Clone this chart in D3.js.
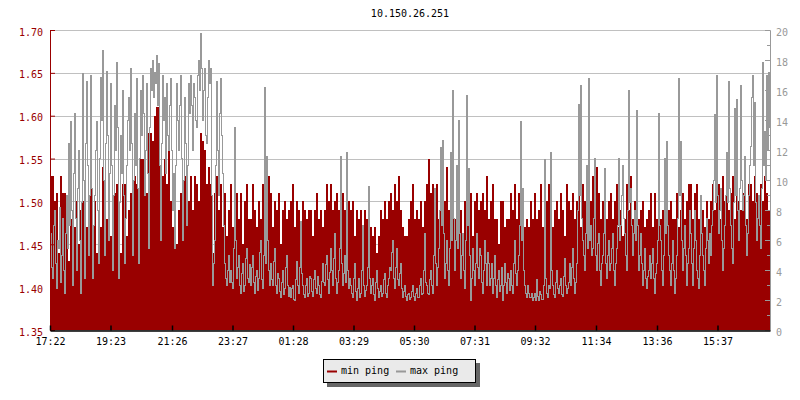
<!DOCTYPE html>
<html>
<head>
<meta charset="utf-8">
<script src="https://cdn.jsdelivr.net/npm/d3@7"></script>
<style>
  body { margin: 0; background: #fff; }
  text { font-family: "DejaVu Sans Mono", monospace; font-size: 10px; }
</style>
</head>
<body>
<div id="chart"></div>
<script>
var title = '10.150.26.251';
var xTickLabels = ['17:22', '19:23', '21:26', '23:27', '01:28', '03:29', '05:30', '07:31', '09:32', '11:34', '13:36', '15:37'];
var leftTicks = [1.35, 1.40, 1.45, 1.50, 1.55, 1.60, 1.65, 1.70];
var rightTicks = [0, 2, 4, 6, 8, 10, 12, 14, 16, 18, 20];
var seriesNames = ['min ping', 'max ping'];

// min ping: one sample every 4 minutes from 17:22 (left axis)
var minPing = [
  1.53, 1.53, 1.50, 1.51, 1.44, 1.53, 1.51, 1.51, 1.50, 1.43,
  1.48, 1.42, 1.47, 1.50, 1.45, 1.49, 1.50, 1.43, 1.47, 1.50,
  1.53, 1.46, 1.50, 1.44, 1.49, 1.47, 1.54, 1.45, 1.48, 1.53,
  1.46, 1.43, 1.51, 1.52, 1.47, 1.44, 1.52, 1.52, 1.46, 1.49,
  1.51, 1.46, 1.53, 1.52, 1.45, 1.55, 1.55, 1.52, 1.51, 1.58,
  1.58, 1.57, 1.60, 1.61, 1.61, 1.50, 1.53, 1.55, 1.52, 1.56,
  1.50, 1.47, 1.51, 1.45, 1.49, 1.51, 1.46, 1.53, 1.48, 1.50,
  1.53, 1.49, 1.53, 1.52, 1.50, 1.58, 1.57, 1.56, 1.52, 1.54,
  1.52, 1.44, 1.51, 1.53, 1.49, 1.52, 1.47, 1.51, 1.46, 1.49,
  1.52, 1.47, 1.51, 1.51, 1.48, 1.51, 1.45, 1.50, 1.52, 1.48,
  1.48, 1.52, 1.49, 1.47, 1.50, 1.48, 1.52, 1.51, 1.46, 1.53,
  1.51, 1.47, 1.50, 1.49, 1.51, 1.45, 1.49, 1.50, 1.48, 1.49,
  1.50, 1.52, 1.47, 1.50, 1.49, 1.45, 1.50, 1.49, 1.48, 1.49,
  1.49, 1.46, 1.49, 1.51, 1.48, 1.49, 1.47, 1.49, 1.52, 1.50,
  1.52, 1.49, 1.50, 1.51, 1.49, 1.47, 1.51, 1.49, 1.48, 1.50,
  1.49, 1.50, 1.46, 1.49, 1.48, 1.49, 1.45, 1.49, 1.48, 1.47,
  1.47, 1.46, 1.47, 1.44, 1.46, 1.49, 1.48, 1.50, 1.48, 1.50,
  1.51, 1.49, 1.52, 1.50, 1.53, 1.49, 1.47, 1.46, 1.46, 1.48,
  1.50, 1.52, 1.48, 1.49, 1.48, 1.50, 1.47, 1.50, 1.52, 1.55,
  1.51, 1.52, 1.49, 1.52, 1.48, 1.50, 1.49, 1.50, 1.54, 1.49,
  1.51, 1.53, 1.48, 1.52, 1.49, 1.49, 1.46, 1.50, 1.52, 1.48,
  1.51, 1.46, 1.50, 1.51, 1.49, 1.50, 1.51, 1.49, 1.53, 1.48,
  1.50, 1.52, 1.48, 1.48, 1.45, 1.50, 1.50, 1.47, 1.48, 1.48,
  1.51, 1.49, 1.52, 1.48, 1.51, 1.53, 1.48, 1.47, 1.48, 1.47,
  1.50, 1.48, 1.51, 1.48, 1.49, 1.52, 1.47, 1.48, 1.50, 1.52,
  1.51, 1.47, 1.49, 1.50, 1.48, 1.51, 1.49, 1.46, 1.52, 1.50,
  1.49, 1.51, 1.48, 1.50, 1.51, 1.47, 1.52, 1.50, 1.48, 1.51,
  1.50, 1.53, 1.49, 1.54, 1.51, 1.48, 1.50, 1.51, 1.48, 1.50,
  1.51, 1.48, 1.50, 1.52, 1.47, 1.49, 1.46, 1.48, 1.52, 1.49,
  1.53, 1.48, 1.50, 1.52, 1.48, 1.49, 1.50, 1.47, 1.48, 1.49,
  1.51, 1.47, 1.51, 1.48, 1.50, 1.48, 1.49, 1.51, 1.52, 1.49,
  1.50, 1.48, 1.48, 1.51, 1.47, 1.49, 1.51, 1.48, 1.50, 1.52,
  1.52, 1.48, 1.51, 1.52, 1.48, 1.50, 1.49, 1.47, 1.50, 1.48,
  1.50, 1.52, 1.49, 1.55, 1.52, 1.48, 1.53, 1.50, 1.51, 1.49,
  1.51, 1.53, 1.48, 1.52, 1.50, 1.49, 1.51, 1.53, 1.48, 1.52,
  1.52, 1.50, 1.53, 1.51, 1.49, 1.52, 1.50, 1.53, 1.51, 1.49
];

// max ping: one sample every 2 minutes from 17:22 (right axis)
var maxPing = [
  6.5, 4.2, 3.5, 7.0, 8.0, 4.5, 2.8, 6.0, 5.5, 8.2, 3.2, 5.0, 7.5, 4.0, 2.5, 6.5, 9.0, 5.5, 12.5, 7.0,
  13.9, 8.0, 3.0, 10.5, 14.5, 7.5, 4.0, 9.5, 12.0, 6.0, 2.5, 8.5, 17.1, 10.0, 3.5, 12.5, 16.6, 11.0, 5.0, 9.0,
  17.0, 9.5, 3.5, 7.0, 9.0, 12.0, 13.9, 8.0, 4.5, 11.5, 16.9, 14.0, 18.7, 10.0, 5.0, 12.5, 17.3, 13.0, 6.0, 10.5,
  16.5, 11.0, 4.0, 9.0, 15.0, 12.0, 17.9, 13.5, 3.5, 8.5, 13.0, 10.5, 16.0, 9.0, 4.5, 7.5, 11.0, 14.0, 15.5, 12.0,
  17.5, 12.5, 5.0, 10.0, 14.5, 11.0, 16.8, 9.5, 4.5, 11.5, 16.0, 13.0, 17.0, 14.5, 9.0, 12.0, 16.5, 10.5, 5.5, 13.5,
  17.5, 16.0, 18.0, 15.5, 17.2, 16.5, 18.3, 15.0, 17.8, 11.0, 6.0, 12.5, 17.0, 14.0, 15.5, 10.5, 16.5, 13.0, 12.0, 15.0,
  16.8, 12.0, 8.0, 10.5, 5.5, 11.0, 16.5, 14.0, 12.0, 15.0, 17.0, 11.5, 6.0, 10.0, 15.5, 12.5, 7.0, 11.0, 16.5, 14.5,
  17.0, 15.0, 12.0, 16.5, 15.5, 14.0, 13.5, 17.0, 18.0, 16.0, 19.8, 17.5, 14.0, 16.0, 17.5, 13.0, 12.5, 15.5, 18.0, 16.5,
  17.5, 9.0, 3.0, 4.5, 6.0, 11.0, 16.6, 12.0, 9.0, 14.5, 16.8, 13.0, 10.5, 7.0, 4.5, 3.5, 3.0, 4.0, 5.0, 3.2,
  4.0, 3.2, 2.8, 5.5, 13.5, 6.0, 3.5, 4.2, 5.0, 3.0, 2.5, 3.8, 4.5, 2.6, 3.0, 4.8, 5.5, 3.5, 3.2, 4.4,
  3.0, 4.2, 5.0, 3.2, 2.5, 3.6, 4.0, 2.7, 3.5, 5.2, 6.0, 3.4, 2.8, 5.0, 16.2, 4.5, 11.6, 6.0, 4.0, 3.0,
  4.5, 3.4, 3.0, 4.6, 5.5, 3.0, 2.5, 3.8, 3.5, 2.6, 2.2, 3.2, 4.0, 2.4, 2.8, 4.2, 5.0, 3.0, 2.3, 2.9,
  2.2, 2.8, 3.0, 2.1, 2.0, 3.4, 4.6, 3.0, 2.5, 4.2, 7.3, 3.8, 3.0, 2.4, 2.2, 3.0, 3.5, 2.3, 2.5, 3.6,
  3.5, 2.6, 2.3, 3.4, 4.0, 2.8, 2.5, 3.6, 3.0, 2.4, 2.2, 3.3, 4.5, 3.2, 3.0, 4.4, 5.0, 3.4, 2.5, 3.9,
  5.5, 4.0, 3.0, 4.8, 6.5, 3.5, 2.5, 3.2, 4.0, 5.5, 11.6, 4.5, 3.0, 3.8, 5.0, 3.2, 11.9, 4.0, 2.8, 3.5,
  3.0, 2.5, 2.2, 3.5, 4.5, 2.6, 2.0, 2.8, 3.5, 2.2, 2.5, 4.0, 7.0, 3.0, 2.3, 2.7, 3.0, 4.2, 9.6, 3.5,
  2.5, 3.0, 3.5, 2.4, 2.0, 3.2, 4.0, 2.8, 2.2, 2.6, 3.0, 2.3, 2.5, 3.4, 3.8, 2.5, 2.2, 3.0, 3.5, 4.2,
  4.0, 5.2, 6.0, 3.5, 2.8, 4.2, 5.5, 3.4, 3.0, 3.8, 4.5, 2.8, 2.2, 2.6, 3.0, 2.3, 2.0, 2.4, 2.5, 2.1,
  2.2, 2.6, 3.0, 2.3, 2.0, 2.5, 2.8, 2.2, 2.2, 3.0, 3.5, 2.4, 2.5, 4.0, 6.5, 3.2, 3.0, 2.5, 2.4, 3.4,
  4.0, 3.0, 2.5, 5.0, 9.5, 4.5, 3.0, 4.2, 5.5, 8.0, 12.2, 7.0, 12.7, 6.5, 3.5, 4.5, 6.0, 4.0, 3.0, 5.5,
  11.9, 6.0, 16.0, 7.5, 4.0, 6.0, 11.0, 5.5, 14.0, 6.5, 3.5, 5.0, 6.5, 4.0, 2.8, 6.0, 15.7, 7.0, 10.8, 5.0,
  2.0, 3.5, 5.5, 4.0, 3.0, 4.5, 6.5, 4.2, 3.5, 5.5, 5.0, 3.2, 2.5, 4.0, 6.0, 4.5, 3.0, 5.2, 4.5, 3.0,
  3.5, 4.5, 2.5, 3.5, 5.0, 3.0, 2.2, 3.4, 4.0, 2.6, 3.0, 4.2, 2.0, 3.0, 4.5, 3.2, 2.5, 3.8, 3.5, 2.7,
  4.0, 3.0, 2.5, 4.5, 6.0, 3.8, 3.0, 4.0, 5.0, 7.0, 13.9, 6.0, 9.5, 4.0, 3.0, 2.5, 2.2, 3.0, 2.5, 2.2,
  2.2, 2.5, 2.0, 2.2, 2.5, 2.0, 3.4, 2.3, 2.0, 2.6, 2.4, 2.1, 2.1, 3.0, 11.4, 3.5, 2.5, 2.2, 3.0, 2.8,
  11.9, 4.0, 3.0, 2.4, 2.2, 3.2, 4.0, 2.8, 2.5, 3.0, 3.5, 2.4, 2.3, 3.6, 4.8, 3.0, 2.5, 2.8, 3.2, 4.5,
  3.0, 4.2, 5.5, 3.5, 2.5, 3.2, 4.5, 8.0, 15.1, 9.0, 16.3, 7.5, 6.0, 5.0, 4.0, 6.5, 11.0, 5.5, 16.8, 6.0,
  7.0, 5.0, 5.5, 7.5, 11.5, 5.0, 4.0, 5.8, 6.5, 4.0, 3.0, 4.5, 5.0, 6.5, 10.8, 4.5, 3.5, 5.0, 6.0, 4.0,
  4.5, 5.5, 6.5, 4.0, 3.0, 4.5, 5.5, 7.0, 11.5, 6.0, 7.0, 9.0, 11.0, 7.5, 6.5, 5.0, 4.0, 8.0, 16.0, 8.5,
  9.5, 7.0, 5.0, 6.5, 8.0, 6.0, 14.7, 7.0, 4.0, 5.0, 6.5, 4.5, 3.0, 4.0, 5.5, 3.5, 2.8, 3.6, 4.0, 5.0,
  3.5, 4.5, 5.5, 3.5, 2.5, 3.8, 4.5, 6.0, 14.5, 7.0, 6.0, 4.0, 3.0, 5.0, 11.5, 6.5, 12.6, 7.0, 5.0, 4.0,
  3.0, 4.5, 6.0, 4.0, 2.5, 3.5, 5.0, 7.5, 16.8, 9.0, 12.6, 6.0, 4.0, 5.5, 7.0, 5.0, 3.0, 4.5, 5.5, 8.0,
  6.5, 4.5, 3.0, 5.5, 8.0, 6.0, 4.0, 3.5, 2.8, 5.0, 9.0, 6.5, 5.0, 4.0, 3.0, 5.5, 7.5, 6.0, 4.5, 6.5,
  5.0, 7.0, 8.0, 10.0, 14.4, 8.5, 17.0, 9.0, 6.5, 8.0, 9.5, 6.0, 4.0, 5.5, 7.0, 9.0, 11.9, 8.5, 16.6, 9.5,
  7.0, 5.5, 4.5, 8.5, 14.8, 9.0, 15.4, 8.0, 6.0, 9.5, 16.3, 10.0, 8.0, 9.0, 11.6, 7.0, 5.0, 6.5, 9.0, 11.0,
  12.3, 15.5, 17.0, 11.0, 15.2, 8.5, 6.0, 7.5, 9.0, 7.0, 5.5, 9.5, 17.9, 11.0, 13.3, 10.0, 17.0, 12.0, 17.2, 13.5
];

var width = 800, height = 400;
var plotLeft = 50, plotRight = 770, plotTop = 30, plotBottom = 330;
var minStep = 4, maxStep = 2; // minutes between samples

var svg = d3.select('#chart')
  .append('svg')
  .attr('width', width)
  .attr('height', height);

var start = new Date(2021, 0, 1, 17, 22);
function timeAt(i, step) {
  return d3.timeMinute.offset(start, i * step);
}

var xScale = d3.scaleTime()
  .domain([start, timeAt(minPing.length, minStep)])
  .range([plotLeft, plotRight]);

var yLeft = d3.scaleLinear().domain([1.35, 1.70]).range([plotBottom, plotTop]);
var yRight = d3.scaleLinear().domain([0, 20]).range([plotBottom, plotTop]);

// tick label strings -> dates (after midnight = next day)
var xTickDates = xTickLabels.map(function (s) {
  var p = s.split(':');
  var d = new Date(2021, 0, 1, +p[0], +p[1]);
  if (d < start) d = d3.timeDay.offset(d, 1);
  return d;
});

// grid
svg.append('g')
  .selectAll('line')
  .data(leftTicks)
  .enter()
  .append('line')
  .attr('x1', plotLeft)
  .attr('x2', plotRight)
  .attr('y1', function (d) { return Math.round(yLeft(d)) + 0.5; })
  .attr('y2', function (d) { return Math.round(yLeft(d)) + 0.5; })
  .attr('stroke', '#c0c0c0')
  .attr('stroke-width', 1);

// min ping area, closing point so the last step reaches the right edge
var idx = d3.range(minPing.length + 1);

var area = d3.area()
  .curve(d3.curveStepAfter)
  .x(function (i) { return Math.round(xScale(timeAt(i, minStep))); })
  .y0(plotBottom)
  .y1(function (i) { return Math.round(yLeft(minPing[Math.min(i, minPing.length - 1)])); });

svg.append('path')
  .datum(idx)
  .attr('d', area)
  .attr('fill', '#990000')
  .attr('shape-rendering', 'crispEdges');

// max ping line: vertical runs sit on pixel-column centres
var line = d3.line()
  .curve(d3.curveStepAfter)
  .x(function (d, i) { return Math.round(xScale(timeAt(i, maxStep))) + 0.5; })
  .y(function (d) { return Math.round(yRight(d)) + 0.5; });

svg.append('path')
  .datum(maxPing)
  .attr('d', line)
  .attr('fill', 'none')
  .attr('stroke', '#999999')
  .attr('stroke-width', 1)
  .attr('stroke-linecap', 'square')
  .attr('shape-rendering', 'crispEdges');

// left axis (red)
var leftMinor = svg.append('g')
  .attr('transform', 'translate(' + plotLeft + ',0)')
  .call(d3.axisLeft(yLeft).tickValues(d3.range(35, 71).map(function (v) { return v / 100; }))
    .tickSize(-3).tickSizeOuter(0).tickFormat(''));
leftMinor.selectAll('line,path').attr('stroke', '#990000');

var leftAxisG = svg.append('g')
  .attr('transform', 'translate(' + plotLeft + ',0)')
  .call(d3.axisLeft(yLeft).tickValues(leftTicks).tickSize(-5).tickSizeOuter(0)
    .tickPadding(7).tickFormat(d3.format('.2f')));
leftAxisG.selectAll('line,path').attr('stroke', '#990000');
leftAxisG.selectAll('text')
  .attr('fill', '#990000')
  .attr('dy', '0.5em')
  .style('font-family', '"DejaVu Sans Mono", monospace')
  .style('font-size', '10px');

// right axis (gray)
var rightMinor = svg.append('g')
  .attr('transform', 'translate(' + plotRight + ',0)')
  .call(d3.axisRight(yRight).tickValues(d3.range(0, 21))
    .tickSize(-3).tickSizeOuter(0).tickFormat(''));
rightMinor.selectAll('line,path').attr('stroke', '#999999');

var rightAxisG = svg.append('g')
  .attr('transform', 'translate(' + plotRight + ',0)')
  .call(d3.axisRight(yRight).tickValues(rightTicks).tickSize(-5).tickSizeOuter(0)
    .tickPadding(6));
rightAxisG.selectAll('line,path').attr('stroke', '#999999');
rightAxisG.selectAll('text')
  .attr('fill', '#999999')
  .attr('dy', '0.5em')
  .style('font-family', '"DejaVu Sans Mono", monospace')
  .style('font-size', '10px');

// x axis (black)
var xAxisG = svg.append('g')
  .attr('transform', 'translate(0,' + (plotBottom + 0.5) + ')')
  .call(d3.axisBottom(xScale).tickValues(xTickDates).tickSize(-5).tickSizeOuter(0)
    .tickPadding(7).tickFormat(d3.timeFormat('%H:%M')));
xAxisG.selectAll('line,path').attr('stroke', '#000').attr('stroke-width', 1.5);
xAxisG.selectAll('text')
  .attr('fill', '#000')
  .style('font-family', '"DejaVu Sans Mono", monospace')
  .style('font-size', '10px');

// title
svg.append('text')
  .attr('x', (plotLeft + plotRight) / 2)
  .attr('y', 17)
  .attr('text-anchor', 'middle')
  .attr('fill', '#000')
  .text(title);

// legend
var lg = svg.append('g');
lg.append('rect')
  .attr('x', 327).attr('y', 363)
  .attr('width', 153).attr('height', 24)
  .attr('fill', '#666666');
lg.append('rect')
  .attr('x', 323.5).attr('y', 359.5)
  .attr('width', 152).attr('height', 23)
  .attr('fill', '#eaeaea')
  .attr('stroke', '#000')
  .attr('stroke-width', 1);

var legendColors = ['#990000', '#999999'];
var legendX = [327, 396];
seriesNames.forEach(function (name, i) {
  lg.append('line')
    .attr('x1', legendX[i]).attr('x2', legendX[i] + 10)
    .attr('y1', 371.5).attr('y2', 371.5)
    .attr('stroke', legendColors[i])
    .attr('stroke-width', 2);
  lg.append('text')
    .attr('x', legendX[i] + 14)
    .attr('y', 374)
    .attr('fill', '#000')
    .text(name);
});
</script>
</body>
</html>
